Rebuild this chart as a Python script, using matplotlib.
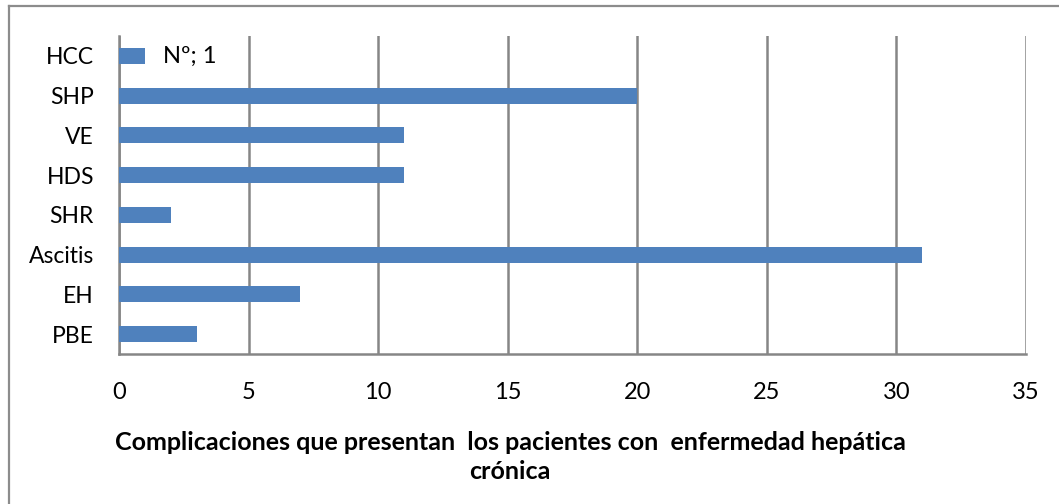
import matplotlib
matplotlib.use("Agg")
import matplotlib.pyplot as plt
from matplotlib.lines import Line2D

categories = ["PBE", "EH", "Ascitis", "SHR", "HDS", "VE", "SHP", "HCC"]
values = [3, 7, 31, 2, 11, 11, 20, 1]
xticks = [0, 5, 10, 15, 20, 25, 30, 35]
data_label = "Nº; 1"
xlabel = "Complicaciones que presentan  los pacientes con  enfermedad hepática\ncrónica"

W, H = 1059, 504
fig = plt.figure(figsize=(W / 100, H / 100), dpi=100)
plt.rcParams['font.family'] = ['Lato', 'DejaVu Sans']

# outer chart border (top and left visible)
bx, by = 8.5 / W, 1 - 5.5 / H
fig.add_artist(Line2D([bx, 1.0], [by, by], transform=fig.transFigure,
                      color="#8c8c8c", linewidth=1.6))
fig.add_artist(Line2D([bx, bx], [0.0, by], transform=fig.transFigure,
                      color="#8c8c8c", linewidth=1.6))

x0, x1 = 119, 1026
ytop, ybot = 36, 354
ax = fig.add_axes([x0 / W, 1 - ybot / H, (x1 - x0) / W, (ybot - ytop) / H])

pos = list(range(len(categories)))
ax.barh(pos, values, height=0.4, color="#4f81bd", zorder=3)
ax.set_xlim(0, 35)
ax.set_ylim(-0.5, len(categories) - 0.5)
ax.set_xticks(xticks)
ax.set_xticklabels([str(t) for t in xticks], fontsize=17)
ax.set_yticks(pos)
ax.set_yticklabels(categories, fontsize=16.5)
ax.tick_params(axis="x", length=0, pad=20)
ax.tick_params(axis="y", length=0, pad=18)
ax.grid(axis="x", color="#868686", linewidth=1.8, zorder=0)
for s in ["top", "right"]:
    ax.spines[s].set_visible(False)
for s in ["left", "bottom"]:
    ax.spines[s].set_color("#868686")
    ax.spines[s].set_linewidth(1.8)

# data label for HCC
ax.text(values[-1] + 0.7, pos[-1], data_label, va="center", ha="left", fontsize=17)

fig.text(510 / W, 1 - 457 / H, xlabel, ha="center", va="center",
         fontsize=18, fontweight="bold", linespacing=1.3)

fig.savefig("out.png", dpi=100)
